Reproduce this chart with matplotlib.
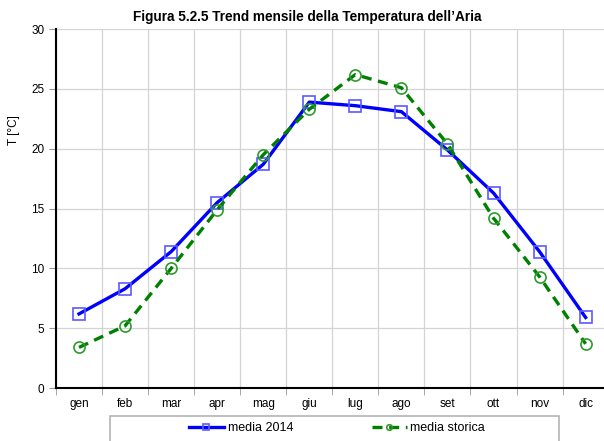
import matplotlib
matplotlib.use("Agg")
import matplotlib.pyplot as plt
from matplotlib.ticker import FixedLocator
from matplotlib.patches import Rectangle

months = ["gen", "feb", "mar", "apr", "mag", "giu", "lug", "ago", "set", "ott", "nov", "dic"]
media_2014 = [6.2, 8.3, 11.4, 15.5, 18.7, 23.9, 23.6, 23.1, 19.9, 16.3, 11.4, 5.9]
media_storica = [3.4, 5.2, 10.0, 14.9, 19.5, 23.3, 26.2, 25.1, 20.4, 14.2, 9.3, 3.7]
yticks = [0, 5, 10, 15, 20, 25, 30]

fam = ["Liberation Sans Narrow", "Liberation Sans", "DejaVu Sans"]
plt.rcParams["font.family"] = fam

W, H = 604, 441
fig = plt.figure(figsize=(W / 100, H / 100), dpi=100)
ax = fig.add_axes([0.0927, 0.120, 0.915, 0.814])

x = list(range(len(months)))
ax.plot(x, media_2014, color="#0000ff", lw=2.4, marker="s", ms=8.5,
        mfc="none", mec="#5a5aff", mew=1.2, label="media 2014", zorder=3)
ax.plot(x, media_storica, color="#008000", lw=2.4, ls=(0, (3, 2)), marker="o", ms=8,
        mfc="none", mec="#2e9a2e", mew=1.2, label="media storica", zorder=3)

ax.set_xlim(-0.5, len(months) - 0.5)
ax.set_ylim(0, 30)
ax.set_xticks(x)
ax.set_xticklabels(months, fontsize=8.5)
ax.xaxis.set_minor_locator(FixedLocator([i + 0.5 for i in range(-1, len(months))]))
ax.tick_params(axis="x", which="major", length=0, pad=7)
ax.tick_params(axis="x", which="minor", length=5, color="#999999")
ax.set_yticks(yticks)
ax.set_yticklabels([str(v) for v in yticks], fontsize=8.5)
ax.tick_params(axis="y", length=5, color="#999999")

ax.grid(True, axis="y", which="major", color="#d4d4d4", lw=0.9)
ax.grid(True, axis="x", which="minor", color="#d4d4d4", lw=0.9)
ax.set_axisbelow(True)

for s in ["top", "right"]:
    ax.spines[s].set_visible(False)
ax.spines["left"].set_linewidth(1.5)
ax.spines["bottom"].set_linewidth(1.5)

fig.text(14 / W, 1 - 130 / H, "T [°C]", rotation=90, ha="center", va="center",
         fontsize=8.5)
fig.text(0.508, 0.962, "Figura 5.2.5 Trend mensile della Temperatura dell\u2019Aria",
         ha="center", va="center", fontsize=9.8, fontweight="bold")

# legend frame (bottom edge falls outside the figure, as in the reference)
fig.patches.append(Rectangle((110 / W, -0.05), (559 - 110) / W, 0.05 + 1 - 416 / H,
                             transform=fig.transFigure, fill=False,
                             edgecolor="#b4b4b4", lw=1.2, zorder=1))
leg = fig.legend(loc="center", bbox_to_anchor=(337 / W, 1 - 428 / H),
                 ncol=2, fontsize=9, frameon=False, markerscale=0.5,
                 handlelength=2.8, handletextpad=0.3, columnspacing=6.3,
                 borderpad=0.0)

fig.savefig("out.png", dpi=100)
